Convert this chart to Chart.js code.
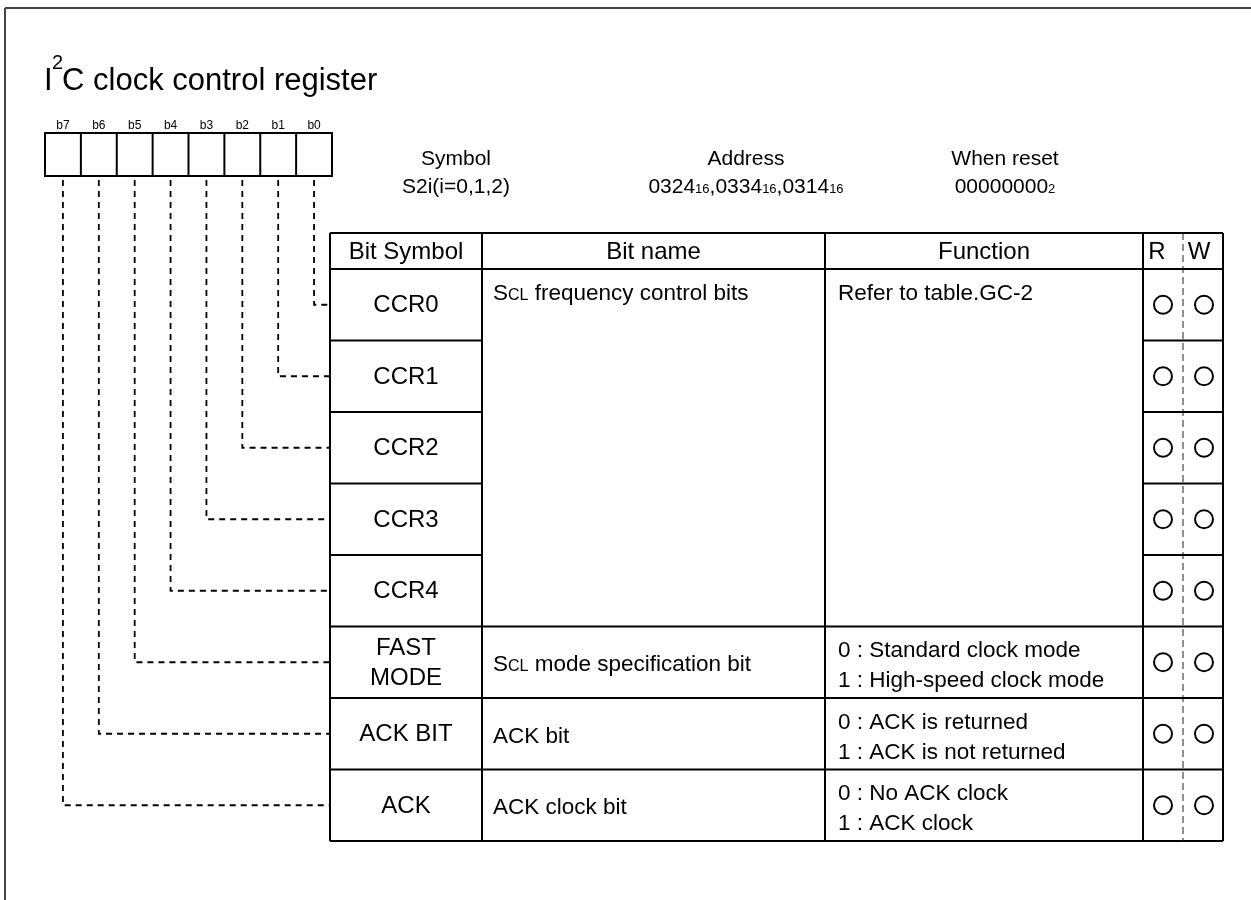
<!DOCTYPE html>
<html><head><meta charset="utf-8">
<script src="https://cdn.jsdelivr.net/npm/chart.js@4.4.0/dist/chart.umd.min.js"></script>
<style>html,body{margin:0;padding:0;background:#fff;}#wrap{width:1251px;height:900px;position:relative;}</style>
</head><body><div id="wrap"><canvas id="c"></canvas></div>
<script>
// ---- data ----
const titleMain = 'C clock control register';
const bitLabels = ['b7','b6','b5','b4','b3','b2','b1','b0'];
const infoHeads = ['Symbol','Address','When reset'];
const infoValues = ['S2i(i=0,1,2)','0324{16},0334{16},0314{16}','00000000{2}'];
const tableHeads = ['Bit Symbol','Bit name','Function','R','W'];
const bitSymbols = [['CCR0'],['CCR1'],['CCR2'],['CCR3'],['CCR4'],['FAST','MODE'],['ACK BIT'],['ACK']];
const bitNumbers = [0,1,2,3,4,5,6,7];
const groupStart = [0,5,6,7];
const groupSpan = [5,1,1,1];
const groupNames = ['S{CL} frequency control bits','S{CL} mode specification bit','ACK bit','ACK clock bit'];
const groupFunctions = [['Refer to table.GC-2'],['0 : Standard clock mode','1 : High-speed clock mode'],['0 : ACK is returned','1 : ACK is not returned'],['0 : No ACK clock','1 : ACK clock']];
const readable = [1,1,1,1,1,1,1,1];
const writable = [1,1,1,1,1,1,1,1];

// ---- layout (layout units, mapped through the chart scales) ----
const L = {
  boxLeft:45, boxTop:133, boxBottom:176, cellW:35.875,
  tLeft:330, tTop:233, headH:36, rowH:71.5,
  colName:482, colFunc:825, colR:1143, colRW:1183, tRight:1223,
  rX:1163, wX:1204
};
const FONT = "'Liberation Sans', Arial, Helvetica, sans-serif";
const bitX = b => L.boxLeft + (7 - b + 0.5) * L.cellW;
const rowTop = k => L.tTop + L.headH + k * L.rowH;
const rowMid = k => rowTop(k) + L.rowH / 2;
const tBottom = rowTop(bitSymbols.length);

const connectors = bitSymbols.map((s, k) => ({
  type:'line', showLine:true, data:[
    {x: bitX(bitNumbers[k]), y: L.boxBottom + 4},
    {x: bitX(bitNumbers[k]), y: rowMid(k)},
    {x: L.tLeft, y: rowMid(k)}],
  borderColor:'#000', borderWidth:1.8, borderDash:[6,5], pointRadius:0, tension:0, fill:false, clip:false
}));
const circleSet = (flags, x) => ({
  type:'scatter', showLine:false,
  data: flags.map((f, k) => f ? {x: x, y: rowMid(k)} : null).filter(p => p),
  pointRadius:9, pointBorderWidth:2, borderColor:'#000', backgroundColor:'rgba(0,0,0,0)', pointHoverRadius:9, clip:false
});

function rich(ctx, str, x, y, size, small, align) {
  const segs = [];
  str.split(/(\{[^}]*\})/).forEach(p => { if (!p) return;
    if (p[0] === '{') segs.push({t:p.slice(1,-1), s:small}); else segs.push({t:p, s:size}); });
  let w = 0;
  segs.forEach(s => { ctx.font = s.s + 'px ' + FONT; s.w = ctx.measureText(s.t).width; w += s.w; });
  let cx = align === 'center' ? x - w / 2 : x;
  ctx.textAlign = 'left'; ctx.textBaseline = 'alphabetic';
  segs.forEach(s => { ctx.font = s.s + 'px ' + FONT; ctx.fillText(s.t, cx, y); cx += s.w; });
}

const diagram = {
  id:'diagram',
  beforeDatasetsDraw(chart) {
    const ctx = chart.ctx, xs = chart.scales.x, ys = chart.scales.y;
    const X = v => xs.getPixelForValue(v), Y = v => ys.getPixelForValue(v);
    const line = (x1, y1, x2, y2, w, col, dash) => {
      ctx.save(); ctx.beginPath(); ctx.lineWidth = w; ctx.strokeStyle = col || '#000';
      ctx.setLineDash(dash || []); ctx.moveTo(X(x1), Y(y1)); ctx.lineTo(X(x2), Y(y2)); ctx.stroke(); ctx.restore();
    };
    ctx.save();
    ctx.fillStyle = '#fff'; ctx.fillRect(0, 0, chart.width, chart.height);
    // frame
    line(5, 8, 1251, 8, 2, '#444'); line(5, 8, 5, 900, 2, '#444');
    // title
    ctx.fillStyle = '#000'; ctx.textBaseline = 'alphabetic'; ctx.textAlign = 'left';
    ctx.font = '31px ' + FONT; ctx.fillText('I', X(44), Y(90));
    ctx.font = '20px ' + FONT; ctx.fillText('2', X(52), Y(69));
    ctx.font = '31px ' + FONT; ctx.fillText(titleMain, X(62), Y(90));
    // bit labels and register box
    ctx.font = '12px ' + FONT; ctx.textAlign = 'center';
    bitLabels.forEach((t, j) => ctx.fillText(t, X(L.boxLeft + (j + 0.5) * L.cellW), Y(129)));
    ctx.lineWidth = 2; ctx.strokeStyle = '#000';
    ctx.strokeRect(X(L.boxLeft), Y(L.boxTop), X(L.boxLeft + 8 * L.cellW) - X(L.boxLeft), Y(L.boxBottom) - Y(L.boxTop));
    for (let j = 1; j < 8; j++) line(L.boxLeft + j * L.cellW, L.boxTop, L.boxLeft + j * L.cellW, L.boxBottom, 2);
    // symbol / address / reset
    const infoX = [456, 746, 1005];
    infoHeads.forEach((h, i) => {
      rich(ctx, h, X(infoX[i]), Y(165), 21, 13, 'center');
      rich(ctx, infoValues[i], X(infoX[i]), Y(193), 21, 13, 'center');
    });
    // table lines
    const TL = L.tLeft, TR = L.tRight, TT = L.tTop;
    line(TL, TT, TR, TT, 2); line(TL, tBottom, TR, tBottom, 2);
    line(TL, TT, TL, tBottom, 2); line(TR, TT, TR, tBottom, 2);
    [L.colName, L.colFunc, L.colR].forEach(c => line(c, TT, c, tBottom, 2));
    line(TL, TT + L.headH, TR, TT + L.headH, 2);
    line(L.colRW, TT, L.colRW, tBottom, 1, '#222', [7, 4]);
    for (let k = 1; k < bitSymbols.length; k++) {
      line(TL, rowTop(k), L.colName, rowTop(k), 2);
      line(L.colR, rowTop(k), TR, rowTop(k), 2);
    }
    groupStart.forEach(g => { if (g > 0) line(L.colName, rowTop(g), L.colR, rowTop(g), 2); });
    // header texts
    ctx.fillStyle = '#000'; ctx.textBaseline = 'middle'; ctx.textAlign = 'center';
    ctx.font = '24px ' + FONT;
    const hm = TT + L.headH / 2 + 1;
    const headX = [(TL + L.colName) / 2, (L.colName + L.colFunc) / 2, (L.colFunc + L.colR) / 2, 1157, 1199];
    tableHeads.forEach((h, i) => ctx.fillText(h, X(headX[i]), Y(hm)));
    // bit symbols
    bitSymbols.forEach((lines, k) => {
      const n = lines.length;
      lines.forEach((t, i) => ctx.fillText(t, X((TL + L.colName) / 2), Y(rowMid(k) + (i - (n - 1) / 2) * 30 + 1)));
    });
    // names & functions
    groupStart.forEach((g, i) => {
      const span = groupSpan[i];
      const fn = groupFunctions[i];
      if (span > 1) {
        rich(ctx, groupNames[i], X(L.colName + 11), Y(rowTop(g) + 31), 22.5, 16, 'left');
        fn.forEach((t, j) => rich(ctx, t, X(L.colFunc + 13), Y(rowTop(g) + 31 + j * 30), 22.5, 16, 'left'));
      } else {
        const mid = rowMid(g);
        rich(ctx, groupNames[i], X(L.colName + 11), Y(mid + 9), 22.5, 16, 'left');
        fn.forEach((t, j) => rich(ctx, t, X(L.colFunc + 13), Y(mid + 10 + (j - (fn.length - 1) / 2) * 30), 22.5, 16, 'left'));
      }
    });
    ctx.restore();
  }
};

new Chart(document.getElementById('c'), {
  type:'scatter',
  data:{ datasets:[...connectors, circleSet(readable, L.rX), circleSet(writable, L.wX)] },
  options:{
    responsive:true, maintainAspectRatio:false, animation:false, events:[],
    layout:{padding:0, autoPadding:false},
    plugins:{legend:{display:false}, tooltip:{enabled:false}},
    scales:{
      x:{type:'linear', min:0, max:1251, display:false},
      y:{type:'linear', min:0, max:900, reverse:true, display:false}
    }
  },
  plugins:[diagram]
});
</script></body></html>
